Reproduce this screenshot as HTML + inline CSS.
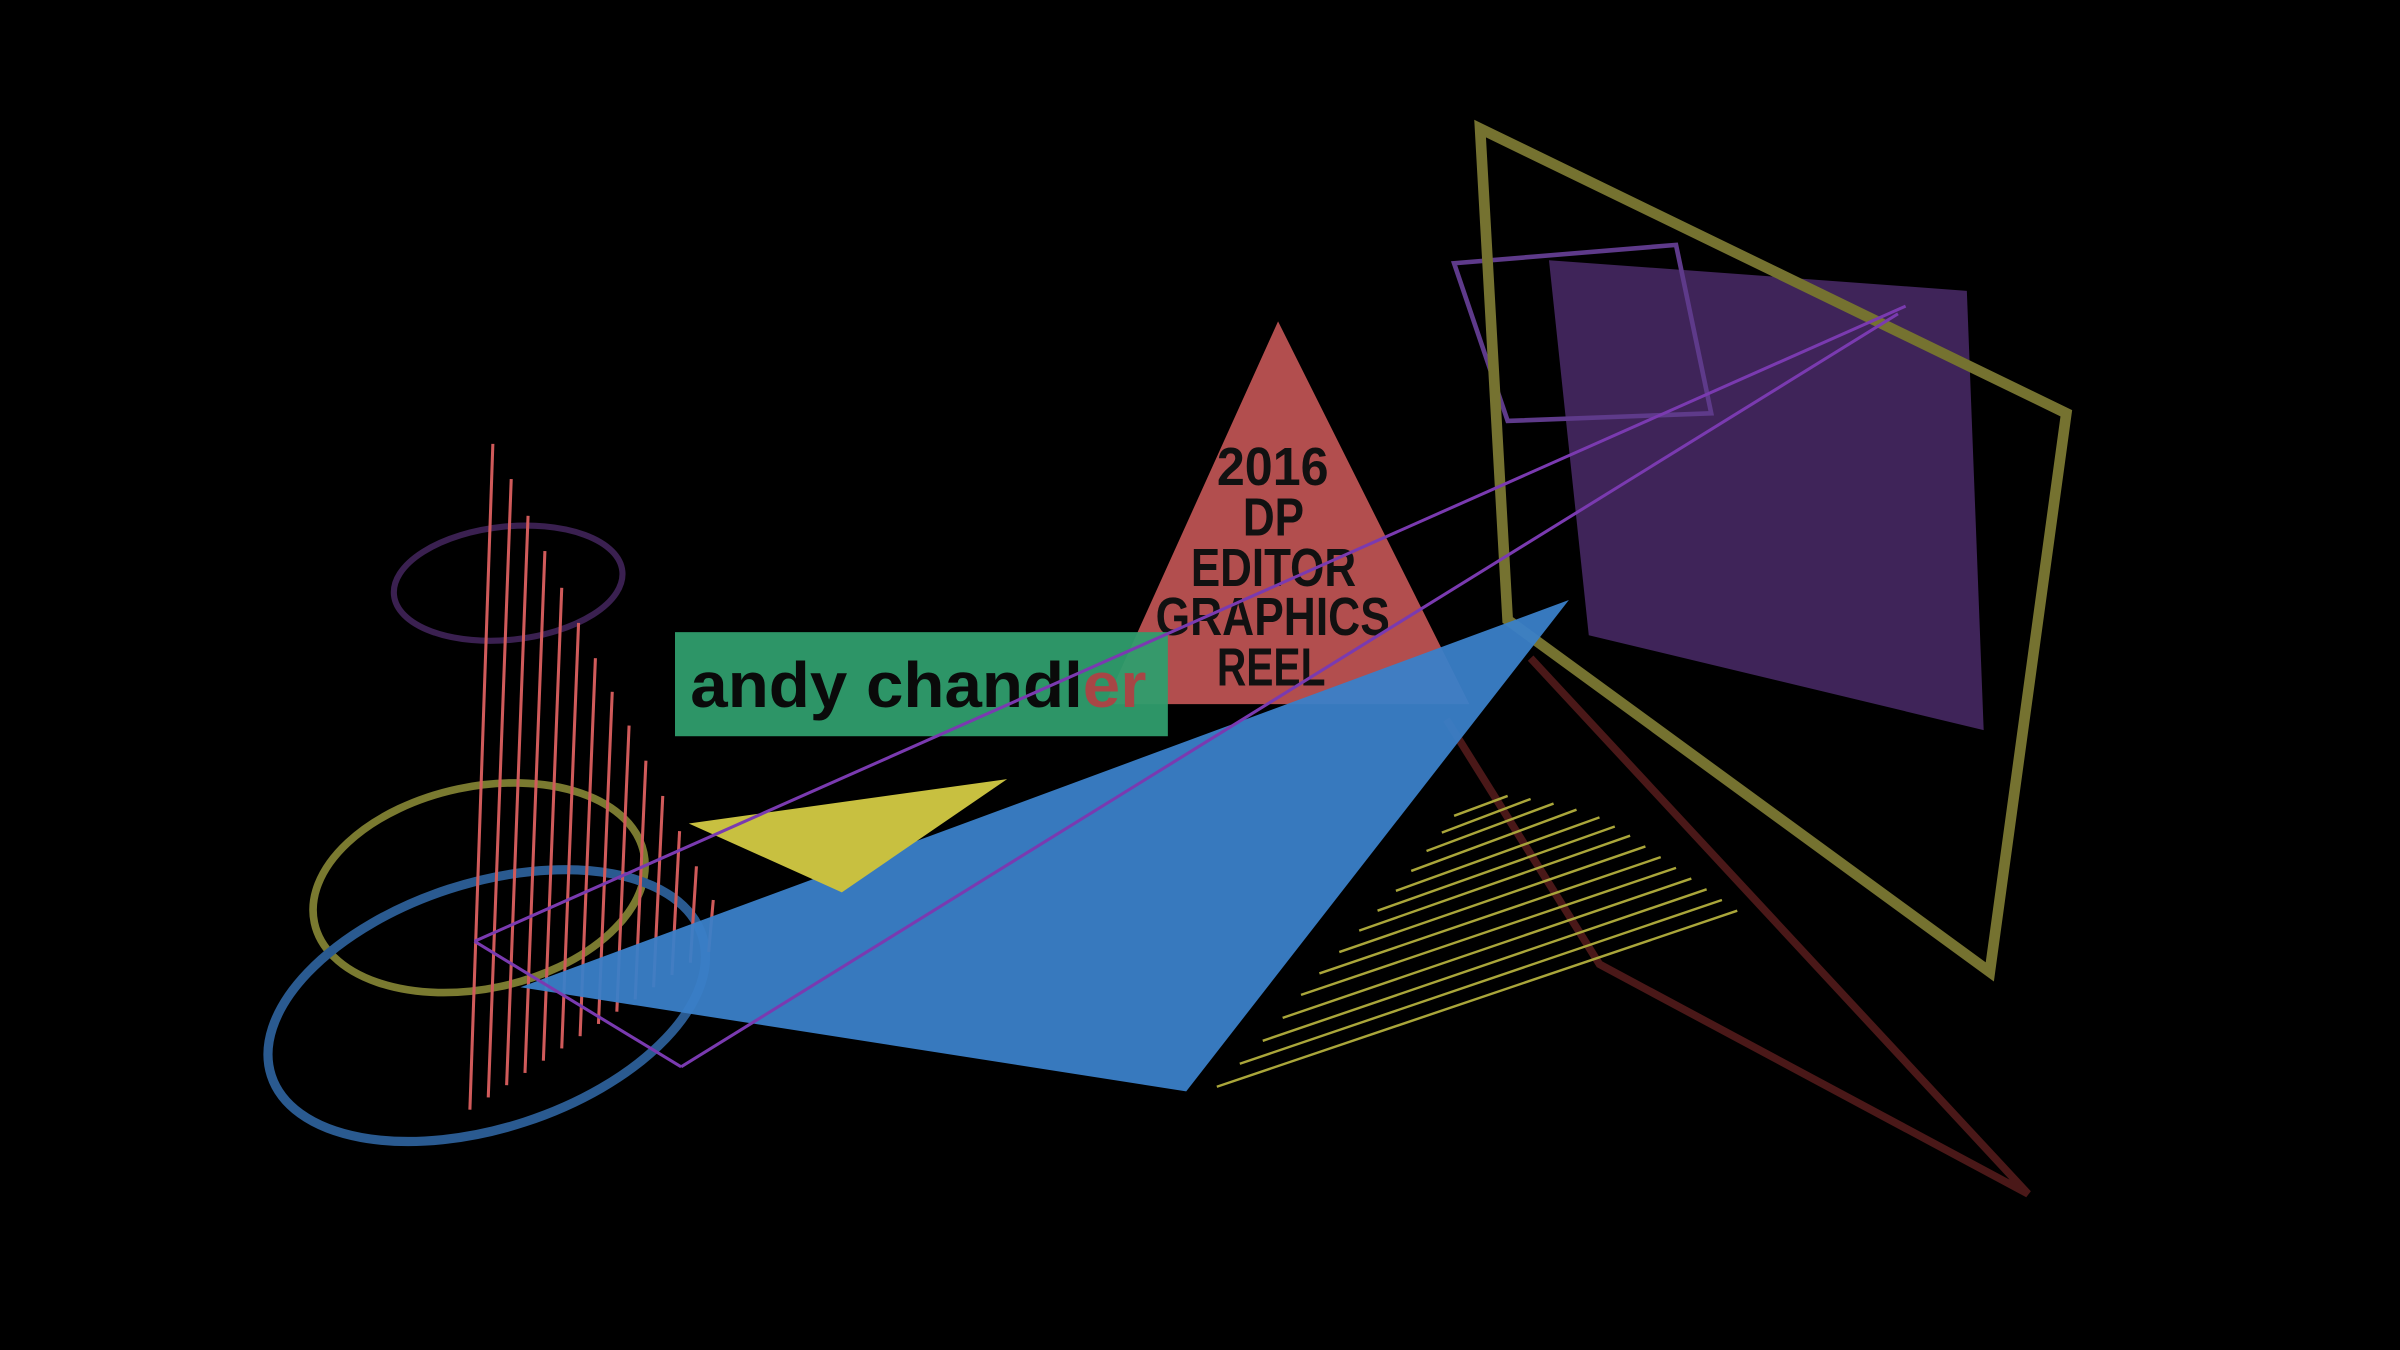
<!DOCTYPE html>
<html><head><meta charset="utf-8"><style>
html,body{margin:0;padding:0;background:#000;width:2400px;height:1350px;overflow:hidden}
svg{display:block}
</style></head><body>
<svg width="2400" height="1350" viewBox="0 0 1568 882" xmlns="http://www.w3.org/2000/svg">
<rect width="1568" height="882" fill="#000"/>
<polygon points="1012,170 1285,190 1296,477 1038,415" fill="#3f2459"/>
<polygon points="950,172 1095,160 1118,270 985,275" fill="none" stroke="#5e3a8a" stroke-width="3"/>
<polygon points="967,84 1350,270 1300,635 985,405" fill="none" stroke="#757230" stroke-width="7"/>
<polyline points="945,470 1045,630 1325,780 1000,430" fill="none" stroke="#4a1818" stroke-width="5"/>
<g stroke="#aaa63a" stroke-width="1.6">
<line x1="795" y1="710" x2="1135" y2="595"/>
<line x1="810" y1="695" x2="1125" y2="588"/>
<line x1="825" y1="680" x2="1115" y2="581"/>
<line x1="838" y1="665" x2="1105" y2="574"/>
<line x1="850" y1="650" x2="1095" y2="567"/>
<line x1="862" y1="636" x2="1085" y2="560"/>
<line x1="875" y1="622" x2="1075" y2="553"/>
<line x1="888" y1="608" x2="1065" y2="546"/>
<line x1="900" y1="595" x2="1055" y2="540"/>
<line x1="912" y1="582" x2="1045" y2="534"/>
<line x1="922" y1="569" x2="1030" y2="529"/>
<line x1="932" y1="556" x2="1015" y2="525"/>
<line x1="942" y1="544" x2="1000" y2="522"/>
<line x1="950" y1="533" x2="985" y2="520"/>
</g>
<ellipse cx="332" cy="381" rx="75" ry="37" transform="rotate(-6 332 381)" fill="none" stroke="#3a2050" stroke-width="4"/>
<ellipse cx="313" cy="580" rx="110" ry="66" transform="rotate(-12 313 580)" fill="none" stroke="#7a7a30" stroke-width="5"/>
<ellipse cx="318" cy="657" rx="148" ry="80" transform="rotate(-18 318 657)" fill="none" stroke="#2a5a90" stroke-width="6"/>
<g stroke="#d05a5a" stroke-width="2">
<line x1="322" y1="290" x2="307" y2="725"/>
<line x1="334" y1="313" x2="319" y2="717"/>
<line x1="345" y1="337" x2="331" y2="709"/>
<line x1="356" y1="360" x2="343" y2="701"/>
<line x1="367" y1="384" x2="355" y2="693"/>
<line x1="378" y1="407" x2="367" y2="685"/>
<line x1="389" y1="430" x2="379" y2="677"/>
<line x1="400" y1="452" x2="391" y2="669"/>
<line x1="411" y1="474" x2="403" y2="661"/>
<line x1="422" y1="497" x2="415" y2="653"/>
<line x1="433" y1="520" x2="427" y2="645"/>
<line x1="444" y1="543" x2="439" y2="637"/>
<line x1="455" y1="566" x2="451" y2="629"/>
<line x1="466" y1="588" x2="463" y2="622"/>
</g>
<polygon points="835,210 722,460 960,460" fill="#b24e4e"/>
<g font-family="'Liberation Sans',sans-serif" font-weight="bold" font-size="35" fill="#111" lengthAdjust="spacingAndGlyphs">
<text x="795" y="317" textLength="73" lengthAdjust="spacingAndGlyphs">2016</text>
<text x="812" y="350" textLength="40" lengthAdjust="spacingAndGlyphs">DP</text>
<text x="778" y="383" textLength="108" lengthAdjust="spacingAndGlyphs">EDITOR</text>
<text x="755" y="415" textLength="153" lengthAdjust="spacingAndGlyphs">GRAPHICS</text>
<text x="795" y="448" textLength="71" lengthAdjust="spacingAndGlyphs">REEL</text>
</g>
<rect x="441" y="413" width="322" height="68" fill="#2f9d6d" fill-opacity="0.95"/>
<text x="451" y="462" font-family="'Liberation Sans',sans-serif" font-weight="bold" font-size="42" fill="#0a0a0a" textLength="298" lengthAdjust="spacingAndGlyphs">andy chandl<tspan fill="#a84646">er</tspan></text>
<polygon points="340,645 1025,392 775,713" fill="#3a80c8" fill-opacity="0.95"/>
<polygon points="450,538 658,509 550,583" fill="#c8c040"/>
<g stroke="#7a3ab0" stroke-width="2" fill="none">
<polyline points="310,615 445,697"/>
<line x1="310" y1="615" x2="1245" y2="200"/>
<line x1="445" y1="697" x2="1240" y2="205"/>
</g>
</svg>
</body></html>
